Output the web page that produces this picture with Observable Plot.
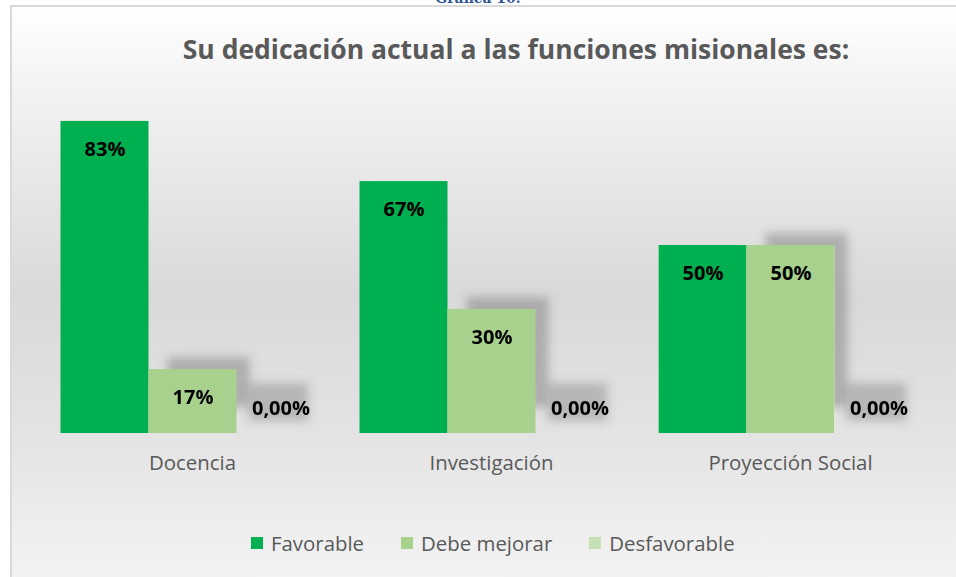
<!DOCTYPE html>
<html>
<head>
<meta charset="utf-8">
<script src="https://cdn.jsdelivr.net/npm/d3@7"></script>
<script src="https://cdn.jsdelivr.net/npm/@observablehq/plot@0.6"></script>
<style>
  html, body { margin: 0; padding: 0; background: #ffffff; }
  #wrap { position: relative; width: 956px; height: 577px; overflow: hidden; font-family: "Open Sans", sans-serif; }
  #panel { position: absolute; left: 10px; top: 5px; width: 960px; height: 580px;
    border-left: 2px solid #d9d9d9; border-top: 2px solid #d9d9d9;
    background: linear-gradient(to bottom, #ffffff 0%, #f2f2f2 15%, #d9d9d9 50%, #e4e4e4 75%, #f4f4f4 100%); }
  #grafica { position: absolute; left: 0; width: 956px; top: -10px; text-align: center; font-family: "DejaVu Serif", serif; font-weight: bold; font-size: 14px; color: #2f5597; }
  #title { position: absolute; left: 0; width: 1032px; top: 31px; text-align: center; font-weight: 700; font-size: 26.5px; line-height: 36px; color: #595959; }
  #chart { position: absolute; left: 0; top: 0; }
  #legend { position: absolute; left: 251px; top: 529px; display: flex; align-items: center; font-size: 20.4px; color: #595959; white-space: nowrap; }
  .item { display: flex; align-items: center; margin-right: 37px; }
  .sw { width: 12px; height: 12px; margin-right: 8px; }
</style>
</head>
<body>
<div id="wrap">
  <div id="panel"></div>
  <div id="grafica">Gráfica 10.</div>
  <div id="title">Su dedicación actual a las funciones misionales es:</div>
  <div id="chart"></div>
  <div id="legend"></div>
</div>
<script>
const categories = ["Docencia", "Investigación", "Proyección Social"];
const series = ["Favorable", "Debe mejorar", "Desfavorable"];
const favorable = [83, 67, 50];
const debeMejorar = [17, 33, 50];
const desfavorable = [0, 0, 0];
const labelsFavorable = ["83%", "67%", "50%"];
const labelsDebeMejorar = ["17%", "30%", "50%"];
const labelsDesfavorable = ["0,00%", "0,00%", "0,00%"];
const colors = ["#00b050", "#a9d18e", "#c5e0b4"];

const values = [favorable, debeMejorar, desfavorable];
const labels = [labelsFavorable, labelsDebeMejorar, labelsDesfavorable];
const rows = [];
categories.forEach((c, i) => {
  series.forEach((s, j) => {
    rows.push({cat: c, serie: s, value: values[j][i], label: labels[j][i]});
  });
});

const plot = Plot.plot({
  width: 956,
  height: 500,
  marginTop: 57,
  marginBottom: 67,
  marginLeft: 42.5,
  marginRight: 16.5,
  style: {background: "transparent", fontFamily: "Open Sans, sans-serif", color: "#595959", overflow: "visible"},
  fx: {domain: categories, paddingInner: 35 / 299, paddingOuter: 17.5 / 299, label: null, axis: null},
  x: {domain: series, padding: 0, axis: null},
  y: {domain: [0, 100], axis: null},
  color: {domain: series, range: colors},
  marks: [
    Plot.barY(rows.filter(d => d.serie === "Debe mejorar"), {
      fx: "cat", x: "serie", y: "value", fill: "#555555", fillOpacity: 0.35,
      dx: 13, dy: -12, insetBottom: 14, insetLeft: 6, ariaDescription: "shadow"
    }),
    Plot.barY(rows.filter(d => d.serie === "Desfavorable"), {
      fx: "cat", x: "serie", y: "value", fill: "#555555", fillOpacity: 0.3,
      dx: 8, dy: -6, insetTop: -44, insetBottom: 6, insetRight: 24, insetLeft: 4, ariaDescription: "shadow"
    }),
    Plot.barY(rows, {fx: "cat", x: "serie", y: "value", fill: "serie"}),
    Plot.text(rows.filter(d => d.value > 0), {
      fx: "cat", x: "serie", y: "value", text: "label", dy: 28,
      fontSize: 20, fontWeight: 700, fill: "#000000"
    }),
    Plot.text(rows.filter(d => d.value === 0), {
      fx: "cat", x: "serie", y: "value", text: "label", dy: -25,
      fontSize: 20, fontWeight: 700, fill: "#000000"
    }),
    Plot.axisFx({anchor: "bottom", tickSize: 0, tickPadding: 22, fontSize: 20.4, label: null, fill: "#595959"})
  ]
});
const svg = d3.select(plot);
const defs = svg.insert("defs", ":first-child");
defs.append("filter").attr("id", "shadowBlur").attr("x", "-50%").attr("y", "-50%").attr("width", "200%").attr("height", "200%")
  .append("feGaussianBlur").attr("stdDeviation", 5);
svg.selectAll('[aria-description="shadow"]').attr("filter", "url(#shadowBlur)");
document.getElementById("chart").appendChild(plot);

const legend = d3.select("#legend");
series.forEach((s, i) => {
  const it = legend.append("div").attr("class", "item");
  it.append("div").attr("class", "sw").style("background", colors[i]);
  it.append("span").text(s);
});
</script>
</body>
</html>
